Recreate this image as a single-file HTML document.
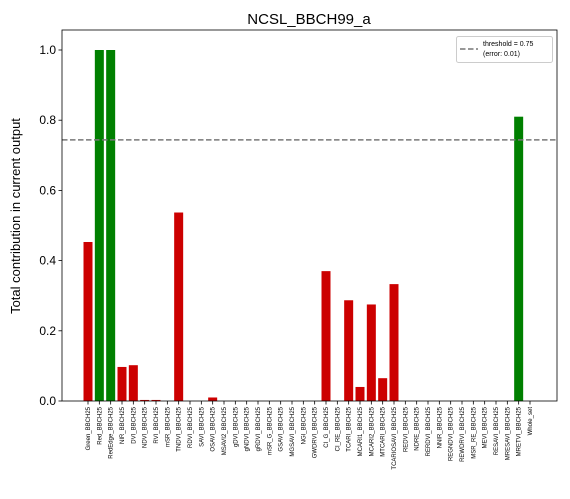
<!DOCTYPE html>
<html><head><meta charset="utf-8"><style>
body{margin:0;background:#fff;font-family:"Liberation Sans","DejaVu Sans",sans-serif}
svg text{font-family:"Liberation Sans","DejaVu Sans",sans-serif}
</style></head><body>
<svg id="c" width="570" height="494" xmlns="http://www.w3.org/2000/svg"></svg>
<script>
const categories=["Green_BBCH25","Red_BBCH25","RedEdge_BBCH25","NIR_BBCH25","DVI_BBCH25","NDVI_BBCH25","RVI_BBCH25","mSR_BBCH25","TNDVI_BBCH25","RDVI_BBCH25","SAVI_BBCH25","OSAVI_BBCH25","MSAVI2_BBCH25","gDVI_BBCH25","gNDVI_BBCH25","gRDVI_BBCH25","mSR_G_BBCH25","GSAVI_BBCH25","MGSAVI_BBCH25","NGI_BBCH25","GWDRVI_BBCH25","CI_G_BBCH25","CI_RE_BBCH25","TCARI_BBCH25","MCARI1_BBCH25","MCARI2_BBCH25","MTCARI_BBCH25","TCARIOSAVI_BBCH25","REDVI_BBCH25","NDRE_BBCH25","RERDVI_BBCH25","NNIR_BBCH25","REGNDVI_BBCH25","REWDRVI_BBCH25","MSR_RE_BBCH25","MEVI_BBCH25","RESAVI_BBCH25","MRESAVI_BBCH25","MRETVI_BBCH25","Whole_set"];
const values=[0.453,1.0,1.0,0.097,0.102,0.003,0.003,0,0.537,0,0,0.01,0,0,0,0,0,0,0,0,0,0.37,0,0.287,0.04,0.275,0.065,0.333,0,0,0,0,0,0,0,0,0,0,0.81,0];
const yTicks=[0.0,0.2,0.4,0.6,0.8,1.0];
const thresholdLine=0.744;
const NS="http://www.w3.org/2000/svg";
const svg=document.getElementById('c');
const L=62,R=557,T=30,B=401;
const x0=88,step=(530-88)/39;
function xs(i){return x0+i*step;}
function ys(v){return B-v*351;}
function mk(tag,a,p){const e=document.createElementNS(NS,tag);for(const k in a)e.setAttribute(k,a[k]);(p||svg).appendChild(e);return e;}
values.forEach((v,i)=>{
  const b=mk('rect',{x:xs(i)-4.5,y:ys(v),width:9,height:B-ys(v),fill:v>=0.75?'#008000':'#cc0000'});
  
  
  mk('line',{x1:xs(i),x2:xs(i),y1:B,y2:B+3.5,stroke:'#000','stroke-width':0.8});
  const t=mk('text',{x:0,y:0,'font-size':6,'text-anchor':'end',transform:`translate(${xs(i)+2},${B+6}) rotate(-90)`});
  t.textContent=categories[i];
  
  
});
yTicks.forEach(v=>{
  mk('line',{x1:L-3.5,x2:L,y1:ys(v),y2:ys(v),stroke:'#000','stroke-width':0.8});
  const t=mk('text',{x:L-6,y:ys(v)+4,'font-size':12,'text-anchor':'end'});
  t.textContent=v.toFixed(1);
  
  
});
const th=mk('line',{x1:L,x2:R,y1:ys(thresholdLine),y2:ys(thresholdLine),stroke:'#777','stroke-width':1.5,'stroke-dasharray':'5.5,2.5'});


const fr=mk('rect',{x:L,y:T,width:R-L,height:B-T,fill:'none',stroke:'#000','stroke-width':0.8});


</script>
<svg width="570" height="494" style="position:absolute;left:0;top:0" xmlns="http://www.w3.org/2000/svg">
<text x="309" y="24" font-size="15" text-anchor="middle">NCSL_BBCH99_a</text>
<text transform="translate(20,216) rotate(-90)" font-size="13" text-anchor="middle">Total contribution in current output</text>
<g>
<rect x="456.5" y="36.5" width="96" height="26" rx="2" fill="#fff" stroke="#ccc"/>
<line x1="460" x2="478" y1="49" y2="49" stroke="#777" stroke-width="1.5" stroke-dasharray="5.5,2.5"/>
<text x="483" y="46" font-size="7">threshold = 0.75</text>
<text x="483" y="56" font-size="7">(error: 0.01)</text>
</g>
</svg>
</body></html>
